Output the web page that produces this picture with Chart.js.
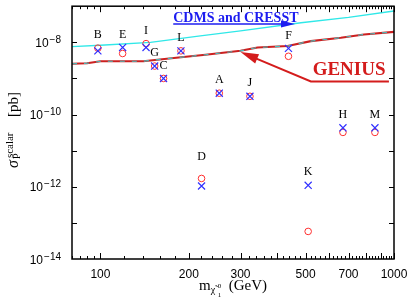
<!DOCTYPE html>
<html>
<head>
<meta charset="utf-8">
<script src="https://cdn.jsdelivr.net/npm/chart.js@4.4.1/dist/chart.umd.min.js"></script>
<style>
  html, body { margin: 0; padding: 0; background: #fff; }
</style>
</head>
<body>
<canvas id="chartSigma" width="409" height="300"></canvas>
<script>
// benchmark models: neutralino mass (GeV) and scalar cross section (pb)
const modelNames = ['B', 'E', 'I', 'G', 'C', 'L', 'A', 'J', 'F', 'H', 'M', 'D', 'K'];
const neutralinoMass = [98, 119, 143, 153, 164, 188, 254, 323, 437, 670, 861, 221, 510];
const sigmaCross = [5.8e-9, 7.2e-9, 7.2e-9, 2.2e-9, 1.0e-9, 5.8e-9, 3.9e-10, 3.2e-10, 6.8e-9, 4.3e-11, 4.3e-11, 1.05e-12, 1.1e-12];
const sigmaCircle = [6.9e-9, 4.9e-9, 9.2e-9, 2.2e-9, 1.0e-9, 5.8e-9, 3.9e-10, 3.2e-10, 4.1e-9, 3.2e-11, 3.2e-11, 1.7e-12, 5.8e-14];

// experimental sensitivity curves
const cdmsMass = [80, 100, 148, 219, 300, 482, 700, 1000];
const cdmsSigma = [7.6e-9, 8.3e-9, 1.0e-8, 1.5e-8, 2.06e-8, 3.48e-8, 4.9e-8, 7.36e-8];
const geniusMass = [80, 90, 100, 140, 188, 228, 300, 343, 434, 521, 659, 790, 1000];
const geniusSigma = [2.54e-9, 2.62e-9, 3.0e-9, 3.0e-9, 3.85e-9, 4.53e-9, 5.81e-9, 7.18e-9, 7.94e-9, 1.08e-8, 1.34e-8, 1.65e-8, 1.95e-8];

// tick labels
const xTickLabels = [100, 200, 300, 500, 700, 1000];
const yTickExponents = [-8, -10, -12, -14];

const toPoints = (xs, ys) => xs.map((v, i) => ({ x: v, y: ys[i] }));

const serif = '"Liberation Serif", "DejaVu Serif", serif';
const sans = '"Liberation Sans", Arial, sans-serif';

function arrowHead(ctx, fromX, fromY, tipX, tipY, len, half) {
  const ang = Math.atan2(tipY - fromY, tipX - fromX);
  ctx.beginPath();
  ctx.moveTo(tipX, tipY);
  ctx.lineTo(tipX - len * Math.cos(ang) - half * Math.sin(ang), tipY - len * Math.sin(ang) + half * Math.cos(ang));
  ctx.lineTo(tipX - len * Math.cos(ang) + half * Math.sin(ang), tipY - len * Math.sin(ang) - half * Math.cos(ang));
  ctx.closePath();
  ctx.fill();
}

const decor = {
  id: 'decor',
  afterDatasetsDraw(chart) {
    const { ctx, scales: { x, y } } = chart;
    const px = m => x.getPixelForValue(m);
    const py = s => y.getPixelForValue(s);
    ctx.save();

    // model letters above the markers
    ctx.fillStyle = '#000';
    ctx.font = '12px ' + serif;
    ctx.textAlign = 'center';
    ctx.textBaseline = 'middle';
    modelNames.forEach((name, i) => {
      const top = Math.min(py(sigmaCross[i]), py(sigmaCircle[i]));
      const lift = name === 'D' ? 22 : 13;
      ctx.fillText(name, px(neutralinoMass[i]), top - lift);
    });

    // CDMS and CRESST label with arrow
    ctx.textAlign = 'left';
    ctx.textBaseline = 'alphabetic';
    ctx.fillStyle = '#1c1cf0';
    ctx.strokeStyle = '#1c1cf0';
    ctx.font = 'bold 14px ' + serif;
    ctx.fillText('CDMS and CRESST', px(177), py(3.7e-8));
    const ay = py(3.2e-8);
    ctx.lineWidth = 1.5;
    ctx.beginPath();
    ctx.moveTo(px(177), ay);
    ctx.lineTo(px(440), ay);
    ctx.stroke();
    arrowHead(ctx, px(177), ay, px(460), ay, 14, 3.5);

    // GENIUS label with arrow
    ctx.fillStyle = '#d41c1c';
    ctx.strokeStyle = '#d41c1c';
    ctx.font = 'bold 19px ' + serif;
    ctx.textAlign = 'center';
    ctx.fillText('GENIUS', px(703), py(1.25e-9));
    const tipX = px(300), tipY = py(5.4e-9);
    const elX = px(521), elY = py(8.2e-10);
    ctx.lineWidth = 2;
    ctx.beginPath();
    ctx.moveTo(px(961), elY);
    ctx.lineTo(elX, elY);
    const ang = Math.atan2(tipY - elY, tipX - elX);
    ctx.lineTo(tipX - 14 * Math.cos(ang), tipY - 14 * Math.sin(ang));
    ctx.stroke();
    arrowHead(ctx, elX, elY, tipX, tipY, 18, 5);

    ctx.restore();
  },
  afterDraw(chart) {
    const { ctx, chartArea: a, scales: { x, y } } = chart;
    ctx.save();
    ctx.strokeStyle = '#000';
    ctx.fillStyle = '#000';

    // inward ticks on all four sides
    ctx.lineWidth = 1;
    ctx.beginPath();
    for (let m = 80; m <= 1000; m += (m < 100 ? 5 : 20)) {
      const p = Math.round(x.getPixelForValue(m)) + 0.5;
      const len = m % 100 === 0 ? 6 : 3;
      ctx.moveTo(p, a.bottom); ctx.lineTo(p, a.bottom - len);
      ctx.moveTo(p, a.top); ctx.lineTo(p, a.top + len);
    }
    for (let e = -13; e <= -8; e++) {
      const p = Math.round(y.getPixelForValue(Math.pow(10, e))) + 0.5;
      ctx.moveTo(a.left, p); ctx.lineTo(a.left + 5, p);
      ctx.moveTo(a.right, p); ctx.lineTo(a.right - 5, p);
    }
    ctx.stroke();
    ctx.lineWidth = 1.5;
    ctx.strokeRect(a.left, a.top, a.right - a.left, a.bottom - a.top);

    // x tick labels
    ctx.font = '12px ' + sans;
    ctx.textAlign = 'center';
    ctx.textBaseline = 'alphabetic';
    xTickLabels.forEach(v => ctx.fillText(String(v), x.getPixelForValue(v), a.bottom + 19));

    // y tick labels 10^e
    ctx.textAlign = 'left';
    yTickExponents.forEach(e => {
      const p = y.getPixelForValue(Math.pow(10, e));
      const sup = '\u2212' + Math.abs(e);
      ctx.font = '10px ' + sans;
      const w2 = ctx.measureText(sup).width;
      ctx.font = '12px ' + sans;
      const w1 = ctx.measureText('10').width;
      const right = a.left - 11;
      ctx.fillText('10', right - w2 - w1 - 1, p + 4.5);
      ctx.font = '10px ' + sans;
      ctx.fillText(sup, right - w2, p + 0.5);
    });

    // x axis title: m_chi1^0 (GeV)
    const cx = (a.left + a.right) / 2;
    const base = a.bottom + 31;
    ctx.font = '15px ' + serif;
    const wm = ctx.measureText('m').width;
    const wg = ctx.measureText('(GeV)').width;
    const total = wm + 12 + 6 + wg;
    let xx = cx - total / 2;
    ctx.fillText('m', xx, base);
    xx += wm;
    ctx.font = '10px ' + serif;
    ctx.fillText('\u03c7\u0303', xx, base + 3);
    ctx.font = '7px ' + serif;
    ctx.fillText('0', xx + 7, base - 2);
    ctx.fillText('1', xx + 7, base + 7);
    xx += 12 + 6;
    ctx.font = '15px ' + serif;
    ctx.fillText('(GeV)', xx, base);

    // y axis title: sigma_P^scalar [pb]
    ctx.translate(18, 168);
    ctx.rotate(-Math.PI / 2);
    ctx.font = 'italic 16px ' + serif;
    ctx.fillText('\u03c3', 0, 0);
    const ws = ctx.measureText('\u03c3').width;
    ctx.font = '10px ' + serif;
    ctx.fillText('P', ws + 1, 2);
    ctx.font = '11px ' + serif;
    ctx.fillText('scalar', ws + 2, -5);
    ctx.font = '15px ' + serif;
    ctx.fillText('[pb]', 51, 0);

    ctx.restore();
  }
};

new Chart(document.getElementById('chartSigma'), {
  type: 'scatter',
  data: {
    datasets: [
      {
        label: 'cross',
        data: toPoints(neutralinoMass, sigmaCross),
        pointStyle: 'crossRot',
        pointRadius: 5,
        borderColor: '#3030ff',
        borderWidth: 1.2
      },
      {
        label: 'circle',
        data: toPoints(neutralinoMass, sigmaCircle),
        pointStyle: 'circle',
        pointRadius: 3.3,
        borderColor: '#ff3030',
        backgroundColor: 'rgba(0,0,0,0)',
        borderWidth: 1
      },
      {
        label: 'GENIUS dash',
        data: toPoints(geniusMass, geniusSigma),
        showLine: true,
        pointRadius: 0,
        borderColor: '#45c0c0',
        borderWidth: 1.1,
        borderDash: [5, 7]
      },
      {
        label: 'GENIUS',
        data: toPoints(geniusMass, geniusSigma),
        showLine: true,
        pointRadius: 0,
        borderColor: '#cc2020',
        borderWidth: 2.1
      },
      {
        label: 'CDMS and CRESST',
        data: toPoints(cdmsMass, cdmsSigma),
        showLine: true,
        pointRadius: 0,
        borderColor: '#30e8e8',
        borderWidth: 1.3
      }
    ]
  },
  options: {
    responsive: false,
    animation: false,
    devicePixelRatio: 1,
    layout: { padding: { top: 1, right: 15, left: 0, bottom: 0 } },
    plugins: { legend: { display: false }, tooltip: { enabled: false } },
    scales: {
      x: {
        type: 'logarithmic',
        min: 80,
        max: 1000,
        grid: { display: false },
        border: { display: false },
        ticks: { display: false },
        afterFit: s => { s.height = 41; }
      },
      y: {
        type: 'logarithmic',
        min: 1e-14,
        max: 1e-7,
        grid: { display: false },
        border: { display: false },
        ticks: { display: false },
        afterFit: s => { s.width = 72; }
      }
    }
  },
  plugins: [decor]
});
</script>
</body>
</html>
